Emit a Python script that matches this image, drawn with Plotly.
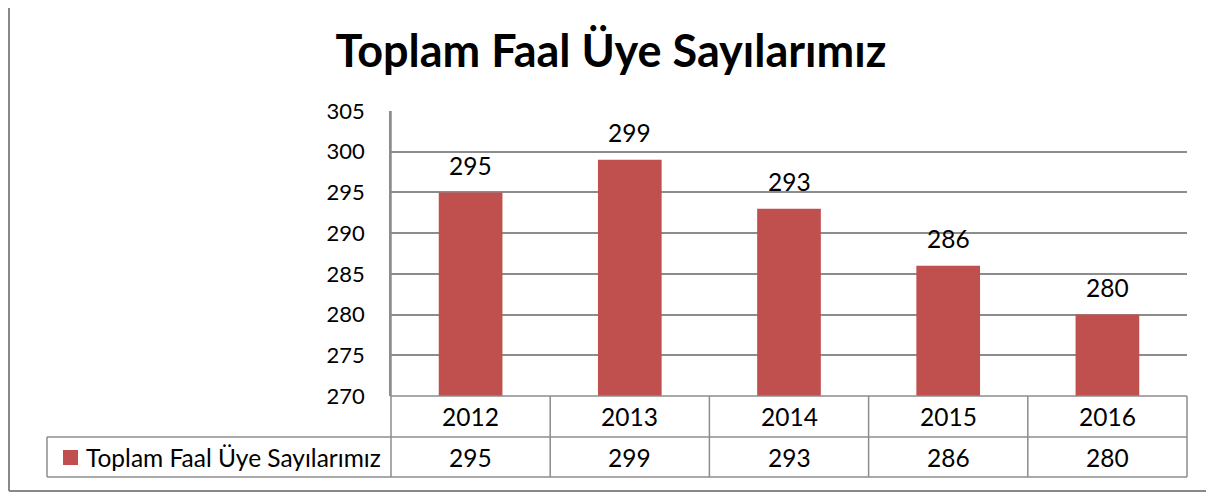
import plotly.graph_objects as go

# Data
years = ["2012", "2013", "2014", "2015", "2016"]
members = [295, 299, 293, 286, 280]
series_name = "Toplam Faal Üye Sayılarımız"
title_text = "Toplam Faal Üye Sayılarımız"

# page has an 8px body margin, so the figure sits at (8, 8)
OFF = 8
W, H = 1214 - OFF, 493 - OFF
L, R, T, B = 391, 1187, 111, 396  # plot area, in screenshot pixels
BAR_COLOR = "#C0504D"
LINE_COLOR = "#8C8C8C"
FONT = "Lato"


def px(x):
    return (x - L) / (R - L)


def py(y):
    return (B - y) / (B - T)


fig = go.Figure()
fig.add_trace(go.Bar(
    x=years,
    y=members,
    name=series_name,
    marker=dict(color=BAR_COLOR, line=dict(width=0)),
    width=0.4,
    hoverinfo="x+y",
))

shapes = []


def line(x0, y0, x1, y1, color=LINE_COLOR, width=1.5):
    shapes.append(dict(type="line", xref="paper", yref="paper",
                       x0=px(x0), y0=py(y0), x1=px(x1), y1=py(y1),
                       line=dict(color=color, width=width), layer="above"))


# data table grid
line(L, B, R, B)
line(47, 437, R, 437)
line(47, 477, R, 477)
line(47, 437, 47, 477)
col_edges = [L + i * (R - L) / len(years) for i in range(len(years) + 1)]
for cx in col_edges:
    line(cx, T if cx == L else B, cx, 477)

# outer chart border
line(9, 0, 9, 491, color="#888888", width=2)
line(9, 491, 1230, 491, color="#888888", width=2)

# legend key in the table
shapes.append(dict(type="rect", xref="paper", yref="paper",
                   x0=px(63), y0=py(465), x1=px(78), y1=py(450),
                   fillcolor=BAR_COLOR, line=dict(width=0)))

cell_font = dict(family=FONT, size=24.5, color="black")
annotations = []
# labels above bars (x given as category index)
for i, v in enumerate(members):
    annotations.append(dict(x=i, y=v, xref="x", yref="y", text=str(v),
                            showarrow=False, yshift=27, yanchor="middle",
                            font=cell_font))
# table rows
for i, (yr, v) in enumerate(zip(years, members)):
    annotations.append(dict(x=i, y=py(416.5), xref="x", yref="paper",
                            text=yr, showarrow=False, yanchor="middle",
                            font=cell_font))
    annotations.append(dict(x=i, y=py(457), xref="x", yref="paper",
                            text=str(v), showarrow=False, yanchor="middle",
                            font=cell_font))
annotations.append(dict(x=px(84), y=py(457), xref="paper", yref="paper",
                        text=series_name, showarrow=False, xanchor="left",
                        yanchor="middle", font=cell_font))

fig.update_layout(
    width=W,
    height=H,
    margin=dict(l=L - OFF, r=1214 - R, t=T - OFF, b=493 - B, pad=0),
    paper_bgcolor="white",
    plot_bgcolor="white",
    showlegend=False,
    title=dict(text=title_text, x=(611 - OFF) / W, xanchor="center",
               y=1 - (51 - OFF) / H, yanchor="middle",
               font=dict(family=FONT, size=45, color="black", weight="bold")),
    xaxis=dict(type="category", range=[-0.5, len(years) - 0.5],
               showticklabels=False, showgrid=False, zeroline=False,
               showline=False, ticks=""),
    yaxis=dict(range=[270, 305], dtick=5, tick0=270, showgrid=True,
               gridcolor=LINE_COLOR, gridwidth=1.5, zeroline=False,
               showline=True, linecolor=LINE_COLOR, linewidth=1.5,
               ticks="", ticklabelstandoff=20,
               tickfont=dict(family=FONT, size=22, color="black")),
    shapes=shapes,
    annotations=annotations,
    bargap=0.6,
)

fig.write_html("out.html")
